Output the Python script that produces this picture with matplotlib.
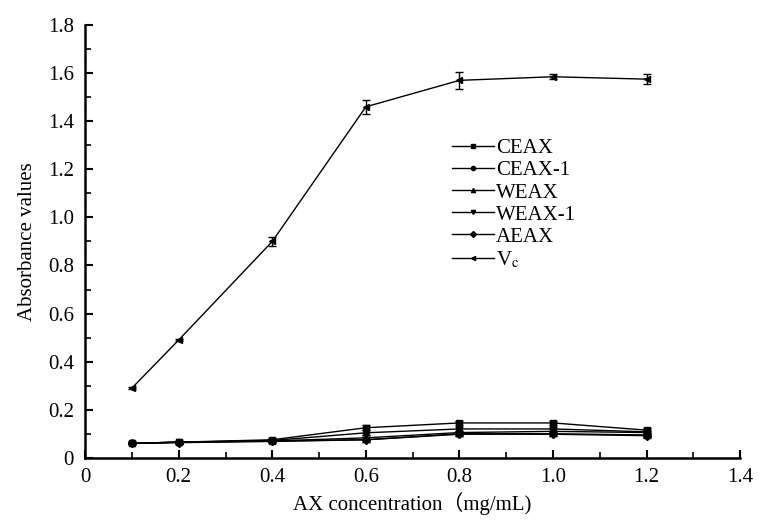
import matplotlib
matplotlib.use('Agg')
import matplotlib.pyplot as plt
from matplotlib.ticker import MultipleLocator

plt.rcParams['font.family'] = ['Liberation Serif', 'Noto Sans CJK SC', 'DejaVu Serif']
plt.rcParams['mathtext.fontset'] = 'stix'

# concentration (mg/mL)
conc = [0.1, 0.2, 0.4, 0.6, 0.8, 1.0, 1.2]

ceax = [0.06, 0.065, 0.075, 0.125, 0.145, 0.145, 0.115]
ceax1 = [0.06, 0.065, 0.072, 0.104, 0.120, 0.120, 0.108]
weax = [0.06, 0.065, 0.070, 0.083, 0.105, 0.110, 0.105]
weax1 = [0.06, 0.065, 0.070, 0.075, 0.100, 0.100, 0.095]
aeax = [0.06, 0.063, 0.068, 0.075, 0.098, 0.098, 0.092]
vc = [0.29, 0.49, 0.90, 1.46, 1.57, 1.585, 1.575]
vc_err = [0.005, 0.005, 0.02, 0.03, 0.035, 0.01, 0.02]
low_err = [0.004, 0.004, 0.006, 0.01, 0.008, 0.008, 0.008]

names = ['CEAX', 'CEAX-1', 'WEAX', 'WEAX-1', 'AEAX', 'V$_\\mathrm{c}$']
markers = ['s', 'o', '^', 'v', 'D', '<']
series = [ceax, ceax1, weax, weax1, aeax, vc]
errs = [low_err, low_err, low_err, low_err, low_err, vc_err]

fig = plt.figure(figsize=(7.6, 5.22), dpi=100)
ax = fig.add_axes([0.112, 0.123, 0.862, 0.829])

for s, e, m, n in zip(series, errs, markers, names):
    ax.errorbar(conc, s, yerr=e, color='black', lw=1.0, marker=m, ms=4,
                capsize=3, elinewidth=1.0)
    # legend handle without the error bars
    ax.plot([], [], color='black', lw=1.0, marker=m, ms=3, label=n)

ax.set_xlim(0, 1.4)
ax.set_ylim(0, 1.8)
ax.xaxis.set_major_locator(MultipleLocator(0.2))
ax.xaxis.set_minor_locator(MultipleLocator(0.1))
ax.yaxis.set_major_locator(MultipleLocator(0.2))
ax.yaxis.set_minor_locator(MultipleLocator(0.1))
fmt = plt.FuncFormatter(lambda v, p: '0' if abs(v) < 1e-9 else '%.1f' % v)
ax.xaxis.set_major_formatter(fmt)
ax.yaxis.set_major_formatter(fmt)

for sp in ['top', 'right']:
    ax.spines[sp].set_visible(False)
for sp in ['left', 'bottom']:
    ax.spines[sp].set_linewidth(1.8)
ax.tick_params(which='major', direction='in', length=6, width=1.5, labelsize=15)
ax.tick_params(which='minor', direction='in', length=4, width=1.2)
ax.tick_params(axis='y', which='major', pad=8)
ax.tick_params(axis='x', which='major', pad=7)

ax.set_xlabel('AX concentration（mg/mL)', fontsize=15, labelpad=4)
ax.set_ylabel('Absorbance values', fontsize=15, labelpad=8)

ax.legend(loc='upper left', bbox_to_anchor=(0.57, 0.77), bbox_transform=fig.transFigure,
          frameon=False, fontsize=15, handlelength=2.0, handletextpad=0.1,
          labelspacing=0.12)

fig.savefig('out.png', dpi=100)
